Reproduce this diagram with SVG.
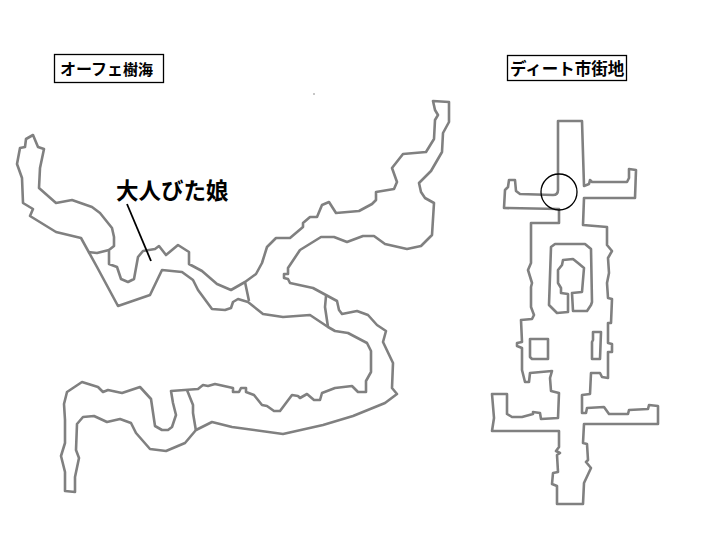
<svg xmlns="http://www.w3.org/2000/svg" width="720" height="540" viewBox="0 0 720 540">
<style>
.m{fill:none;stroke:#808080;stroke-width:2.6;stroke-linejoin:round}
.b{fill:#fff;stroke:#000;stroke-width:1.3}
.t{font-family:"Noto Sans CJK JP","Noto Sans CJK SC",sans-serif;font-weight:700;fill:#000}
</style>
<rect width="720" height="540" fill="#fff"/>
<g id="forest-map">
<path class="m" d="M33 135L38 147L44 149L40 168L39 188L56 203L72 200L92 207L100 213L112 228L114 237L114 246L109 250L109 264L117 267L121 279L128 282L134 279L138 257L143 251L155 249L159 246L166 255L178 245L189 252L189 264L202 271L217 284L231 290L245 282L256 274L262 263L267 247L276 238L290 238L303 227L303 223L310 217L317 217L322 205L329 202L336 213L359 211L372 204L376 200L376 192L394 189L397 182L392 168L403 154L426 152L434 139L435 120L438 115L435 110L433 101L449 102L449 122L443 133L442 152L431 171L419 183L421 192L425 198L434 203L432 235L421 246L407 249L385 244L374 236L363 236L347 242L334 237L321 237L300 250L288 268L288 274L284 274L284 278L288 279L290 283L313 288L337 301L339 310L342 314L357 311L368 315L377 325L386 331L383 342L393 363L392 388L397 394L385 403L353 416L323 425L283 434L232 427L212 422L196 430L185 443L166 451L150 449L136 433L131 423L120 419L107 422L94 416L83 417L77 424L76 450L79 458L75 477L75 492L65 491L65 472L61 456L65 443L65 420L64 404L67 392L82 382L98 387L103 392L108 390L122 393L140 387L151 399L155 426L162 430L168 430L172 427L176 415L173 403L171 391L198 389L203 385L208 386L215 384L233 388L233 392L239 392L241 388L246 388L246 392L254 395L262 405L267 406L274 411L280 411L292 395L298 396L300 398L307 394L314 400L320 400L322 393L335 388L352 386L358 392L366 392L366 381L371 372L371 351L367 343L348 333L335 331L328 327L310 315L283 317L263 314L248 302L238 299L233 302L231 308L225 310L212 309L198 290L193 280L182 272L162 270L150 295L118 306L97 267L81 238L56 232L30 216L33 209L23 203L22 178L17 164L20 148L25 147L26 139Z"/>
<path class="m" d="M88 252L97 253L109 250M245 282L249 301M326 296L325 307L328 327M187 390L193 405L193 413L196 431"/>
<circle cx="314" cy="94" r="0.8" fill="#808080"/>
</g>
<g id="town-map">
<path class="m" d="M558 121L582 121L584 186L589 184L590 180L592 182L627 182L629 178L629 169L636 170L635 198L584 198L583 225L607 227L607 245L612 251L608 258L609 273L607 283L608 298L612 299L611 323L608 323L608 343L612 344L612 352L608 352L608 378L602 377L600 373L591 373L590 394L582 395L582 413L586 413L587 408L604 407L609 414L628 414L629 410L648 409L649 405L658 406L658 424L584 424L583 443L587 444L588 460L586 462L591 468L584 483L583 504L557 504L557 486L552 484L553 473L558 472L557 455L560 453L556 451L559 447L559 431L492 431L494 418L492 394L507 394L507 414L512 417L522 417L533 414L533 412L540 413L541 419L558 418L559 393L551 391L550 378L552 371L530 373L529 382L525 382L522 370L522 348L517 346L517 343L522 342L521 320L532 319L534 315L531 307L531 287L532 283L528 270L531 263L531 223L559 223L559 209L504 208L505 190L508 187L509 180L515 180L516 191L520 194L553 195Q558 195 558 190Z"/>
<path class="m" d="M551 247L555 244L585 244L591 249L592 302L591 305L587 311L573 311L572 293L582 292L584 268L578 263L573 259L563 260L562 265L558 270L558 283L561 288L561 293L568 294L568 312L557 313L549 305Z"/>
<path class="m" d="M530 339L548 339L548 359L532 359L530 357Z"/>
<path class="m" d="M593 332L601 332L600 359L592 359L592 342L593 340Z"/>
<circle cx="559" cy="192" r="18" fill="none" stroke="#000" stroke-width="1.3"/>
</g>
<g id="label-forest">
<rect class="b" x="54.500" y="54.500" width="109" height="28"/>
<text class="t" y="75" font-size="16" x="60">オーフェ<tspan font-size="15">樹海</tspan></text>
</g>
<g id="label-town">
<rect class="b" x="507.500" y="55.500" width="119" height="25"/>
<text class="t" x="510" y="75" font-size="16.500">ディート市街地</text>
</g>
<g id="callout">
<text class="t" x="116" y="199" font-size="22.500">大人びた娘</text>
<line x1="127" y1="204" x2="151" y2="261" stroke="#000" stroke-width="1.800"/>
</g>
</svg>
